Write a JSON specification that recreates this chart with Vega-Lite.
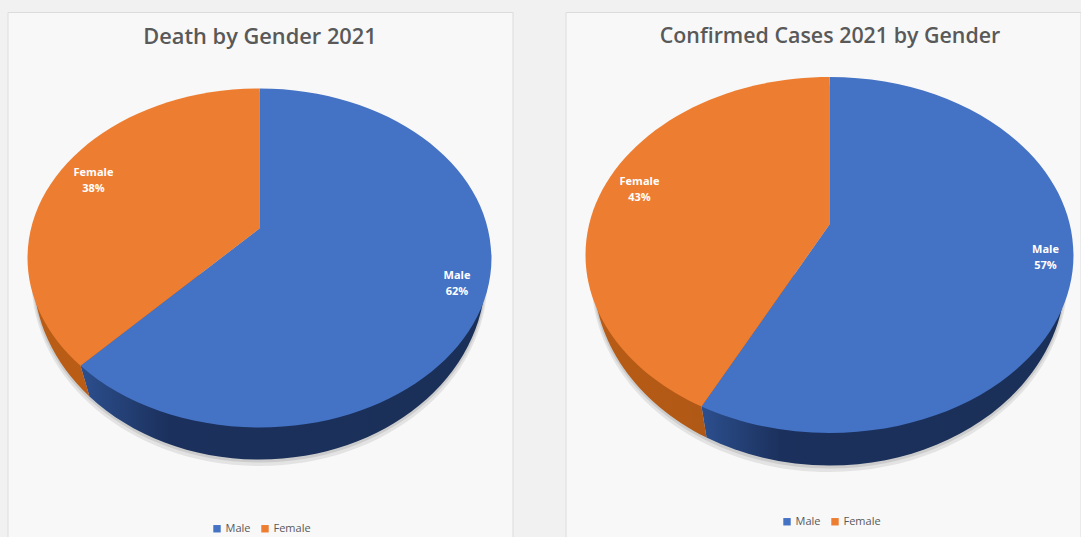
{
"$schema":"https://vega.github.io/schema/vega-lite/v6.json",
"background":"#f1f1f1",
"padding":{"left":6.5,"top":11,"right":0,"bottom":0},
"autosize":{"type":"pad"},
"spacing":51,
"resolve":{"scale":{"color":"independent"},"legend":{"color":"independent"}},
"config":{
 "legend":{"orient":"none","direction":"horizontal","title":null,"symbolSize":55,"labelFont":"Open Sans","labelFontSize":11,"labelColor":"#595959","columnPadding":9,"labelOffset":3,"symbolOpacity":1,"symbolStrokeWidth":0}},
"datasets":{"slices":[
 {"chart":"Death by Gender 2021","category":"Male","share":62,"label":"Male\n62%"},
 {"chart":"Death by Gender 2021","category":"Female","share":38,"label":"Female\n38%"},
 {"chart":"Confirmed Cases 2021 by Gender","category":"Male","share":57,"label":"Male\n57%"},
 {"chart":"Confirmed Cases 2021 by Gender","category":"Female","share":43,"label":"Female\n43%"}
]},
"hconcat":[
{"width":505,"height":526,"view":{"fill":"#f8f8f8","stroke":"#dcdcdc"},"data":{"name":"slices"},
 "transform":[{"filter":"datum.chart==='Death by Gender 2021'"}],
 "layer":[
 {"mark":{"type":"point","filled":true,"opacity":1,"size":1,"shape":"square"},
  "encoding":{
   "color":{"field":"category","type":"nominal","scale":{"domain":["Male","Female"],"range":["#4472c4","#ed7d31"]},
     "legend":{"symbolType":"square","legendX":204,"legendY":511}}}},
 {"transform":[{"filter":"datum.category==='Male'"}],
  "mark":{"type":"point","filled":true,"opacity":0.12,"fill":"#555555","size":4,"shape":"M-228.5 4 A228 187 0 0 0 227.5 4 A228 187 0 0 0 -228.5 4 Z"},"encoding":{}},
 {"transform":[{"filter":"datum.category==='Male'"}],
  "mark":{"type":"point","filled":true,"opacity":0.16,"fill":"#555555","size":4,"shape":"M-227.5 1.5 A227 186 0 0 0 226.5 1.5 A227 186 0 0 0 -227.5 1.5 Z"},"encoding":{}},
 {"transform":[{"filter":"datum.category==='Male'"}],
  "mark":{"type":"point","filled":true,"opacity":1,"size":4,"fill":{"gradient":"linear","x1":0,"x2":1,"y1":0,"y2":0,"stops":[{"offset":0,"color":"#2c4f8e"},{"offset":0.22,"color":"#1b305c"},{"offset":1,"color":"#1a3058"}]},"shape":"M225.5 -0.5 A226 185 0 0 1 -0.5 184.5 A226 185 0 0 1 -170.5 121.4 L-179.5 90.8 L-0.5 0 Z"},"encoding":{}},
 {"transform":[{"filter":"datum.category==='Female'"}],
  "mark":{"type":"point","filled":true,"opacity":1,"size":4,"fill":"#b85c16","shape":"M-179.5 90.8 L-170.5 121.4 A226 185 0 0 1 -226.5 -0.5 L-0.5 -0.5 Z"},"encoding":{}},
 {"transform":[{"filter":"datum.category==='Male'"}],
  "mark":{"type":"point","filled":true,"opacity":1,"size":4,"strokeWidth":0,"fill":"#4472c4","shape":"M-0.5 -46.5 L-0.5 -186.5 A232 169.5 0 0 1 231.5 -17 A232 169.5 0 0 1 -0.5 152.5 A232 169.5 0 0 1 -179.5 90.8 Z"},"encoding":{}},
 {"transform":[{"filter":"datum.category==='Female'"}],
  "mark":{"type":"point","filled":true,"opacity":1,"size":4,"strokeWidth":0,"fill":"#ed7d31","shape":"M-0.5 -46.5 L-179.5 90.8 A232 169.5 0 0 1 -232.5 -17 A232 169.5 0 0 1 -0.5 -186.5 Z"},"encoding":{}},
 {"transform":[{"filter":"datum.category==='Male'"}],
  "mark":{"type":"text","font":"Open Sans","fontSize":11,"fontWeight":"bold","color":"#ffffff","lineBreak":"\n","lineHeight":16,"baseline":"middle","dx":197,"dy":0.5},
  "encoding":{"text":{"field":"label"}}},
 {"transform":[{"filter":"datum.category==='Female'"}],
  "mark":{"type":"text","font":"Open Sans","fontSize":11,"fontWeight":"bold","color":"#ffffff","lineBreak":"\n","lineHeight":16,"baseline":"middle","dx":-166.5,"dy":-102},
  "encoding":{"text":{"field":"label"}}},
 {"transform":[{"filter":"datum.category==='Male'"}],
  "mark":{"type":"text","font":"Open Sans","fontSize":21.8,"fontWeight":600,"color":"#595959","baseline":"middle","dx":0,"dy":-238},
  "encoding":{"text":{"field":"chart"}}}
 ]},
{"width":515,"height":526,"view":{"fill":"#f8f8f8","stroke":"#dcdcdc"},"data":{"name":"slices"},
 "transform":[{"filter":"datum.chart==='Confirmed Cases 2021 by Gender'"}],
 "layer":[
 {"mark":{"type":"point","filled":true,"opacity":1,"size":1,"shape":"square"},
  "encoding":{
   "color":{"field":"category","type":"nominal","scale":{"domain":["Male","Female"],"range":["#4472c4","#ed7d31"]},
     "legend":{"symbolType":"square","legendX":216,"legendY":504}}}},
 {"transform":[{"filter":"datum.category==='Male'"}],
  "mark":{"type":"point","filled":true,"opacity":0.12,"fill":"#555555","size":4,"shape":"M-231.5 4 A238 193 0 0 0 244.5 4 A238 193 0 0 0 -231.5 4 Z"},"encoding":{}},
 {"transform":[{"filter":"datum.category==='Male'"}],
  "mark":{"type":"point","filled":true,"opacity":0.16,"fill":"#555555","size":4,"shape":"M-230.5 1.5 A237 192 0 0 0 243.5 1.5 A237 192 0 0 0 -230.5 1.5 Z"},"encoding":{}},
 {"transform":[{"filter":"datum.category==='Male'"}],
  "mark":{"type":"point","filled":true,"opacity":1,"size":4,"fill":{"gradient":"linear","x1":0,"x2":1,"y1":0,"y2":0,"stops":[{"offset":0,"color":"#2c4f8e"},{"offset":0.22,"color":"#1b305c"},{"offset":1,"color":"#1a3058"}]},"shape":"M242.5 -0.5 A236 191 0 0 1 6.5 190.5 A236 191 0 0 1 -116.5 162.5 L-121.5 131.5 L6.5 0 Z"},"encoding":{}},
 {"transform":[{"filter":"datum.category==='Female'"}],
  "mark":{"type":"point","filled":true,"opacity":1,"size":4,"fill":{"gradient":"linear","x1":0,"x2":1,"y1":0,"y2":0,"stops":[{"offset":0,"color":"#b85c16"},{"offset":1,"color":"#a65414"}]},"shape":"M-121.5 131.5 L-116.5 162.5 A236 191 0 0 1 -229.5 -0.5 L6.5 -0.5 Z"},"encoding":{}},
 {"transform":[{"filter":"datum.category==='Male'"}],
  "mark":{"type":"point","filled":true,"opacity":1,"size":4,"strokeWidth":0,"fill":"#4472c4","shape":"M6.5 -50.5 L6.5 -198 A244 178 0 0 1 250.5 -20 A244 178 0 0 1 6.5 158 A244 178 0 0 1 -121.5 131.5 Z"},"encoding":{}},
 {"transform":[{"filter":"datum.category==='Female'"}],
  "mark":{"type":"point","filled":true,"opacity":1,"size":4,"strokeWidth":0,"fill":"#ed7d31","shape":"M6.5 -50.5 L-121.5 131.5 A244 178 0 0 1 -237.5 -20 A244 178 0 0 1 6.5 -198 Z"},"encoding":{}},
 {"transform":[{"filter":"datum.category==='Male'"}],
  "mark":{"type":"text","font":"Open Sans","fontSize":11,"fontWeight":"bold","color":"#ffffff","lineBreak":"\n","lineHeight":16,"baseline":"middle","dx":222.5,"dy":-25},
  "encoding":{"text":{"field":"label"}}},
 {"transform":[{"filter":"datum.category==='Female'"}],
  "mark":{"type":"text","font":"Open Sans","fontSize":11,"fontWeight":"bold","color":"#ffffff","lineBreak":"\n","lineHeight":16,"baseline":"middle","dx":-183.5,"dy":-93.5},
  "encoding":{"text":{"field":"label"}}},
 {"transform":[{"filter":"datum.category==='Male'"}],
  "mark":{"type":"text","font":"Open Sans","fontSize":21.4,"fontWeight":600,"color":"#595959","baseline":"middle","dx":7,"dy":-238},
  "encoding":{"text":{"field":"chart"}}}
 ]}
]
}
